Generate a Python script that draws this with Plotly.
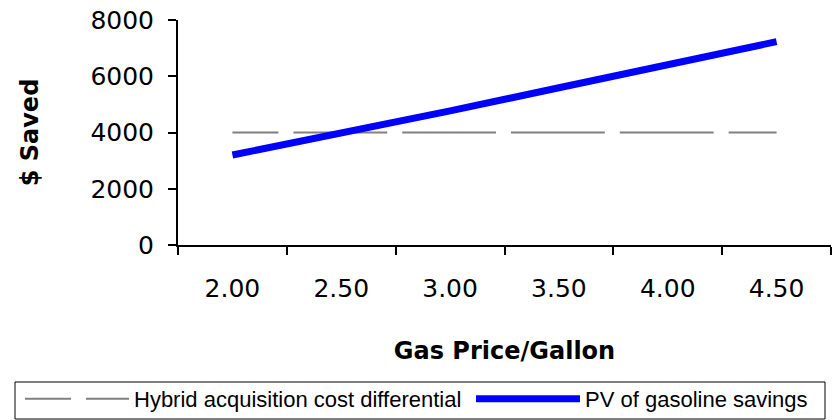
import plotly.graph_objects as go

# Gas price per gallon (category labels on the x axis)
gas_price = ["2.00", "2.50", "3.00", "3.50", "4.00", "4.50"]
# Present value of gasoline savings at each price ($)
pv_savings = [3200, 3960, 4770, 5590, 6390, 7230]
# Extra purchase cost of the hybrid ($), flat across prices
acq_cost_diff = [4000, 4000, 4000, 4000, 4000, 4000]

W, H = 840, 420
M_L, M_R, M_T, M_B = 178, 9, 20, 175
plot_w = W - M_L - M_R
plot_h = H - M_T - M_B
step = plot_w / len(gas_price)  # pixel width of one category slot


def px_x(px):
    """Horizontal pixel position -> paper fraction."""
    return (px - M_L) / plot_w


def px_y(px):
    """Vertical pixel position (from top) -> paper fraction."""
    return (H - M_B - px) / plot_h


fig = go.Figure()

fig.add_trace(go.Scatter(
    x=gas_price, y=acq_cost_diff, mode="lines",
    name="Hybrid acquisition cost differential",
    line=dict(color="#808080", width=2,
              dash=f"46px,15px,{step - 61:.1f}px,0px"),
    legendwidth=332,
))
fig.add_trace(go.Scatter(
    x=gas_price, y=pv_savings, mode="lines",
    name="PV of gasoline savings",
    line=dict(color="#0000FF", width=7),
))

tick_font = dict(family="DejaVu Sans", size=25, color="black")
title_font = dict(family="DejaVu Sans", size=24, color="black", weight="bold")

fig.update_layout(
    width=W, height=H,
    margin=dict(l=M_L, r=M_R, t=M_T, b=M_B, autoexpand=False),
    paper_bgcolor="white", plot_bgcolor="white",
    showlegend=True,
    legend=dict(
        orientation="h",
        x=px_x(20), xanchor="left",
        y=px_y(399), yanchor="middle",
        font=dict(family="Liberation Sans, Arial", size=22, color="black"),
        itemwidth=104, bgcolor="rgba(0,0,0,0)",
        borderwidth=0, traceorder="normal",
    ),
    xaxis=dict(
        type="category", range=[-0.5, len(gas_price) - 0.5],
        showline=True, linecolor="black", linewidth=2,
        ticks="outside", ticklen=8, tickwidth=2, tickcolor="black",
        tickson="boundaries", showgrid=False, zeroline=False,
        tickfont=tick_font, ticklabelstandoff=20,
        title=dict(text="Gas Price/Gallon", font=title_font, standoff=40),
    ),
    yaxis=dict(
        range=[0, 8000], tickvals=[0, 2000, 4000, 6000, 8000],
        showline=True, linecolor="black", linewidth=2,
        ticks="outside", ticklen=8, tickwidth=2, tickcolor="black",
        showgrid=False, zeroline=False,
        tickfont=tick_font, ticklabelstandoff=9,
        title=dict(text="$ Saved", font=title_font, standoff=45),
    ),
    shapes=[dict(
        type="rect", xref="paper", yref="paper",
        x0=px_x(15), x1=px_x(825), y0=px_y(419), y1=px_y(382),
        line=dict(color="black", width=1), fillcolor="rgba(0,0,0,0)",
        layer="below",
    )],
)

fig.write_html("out.html")
